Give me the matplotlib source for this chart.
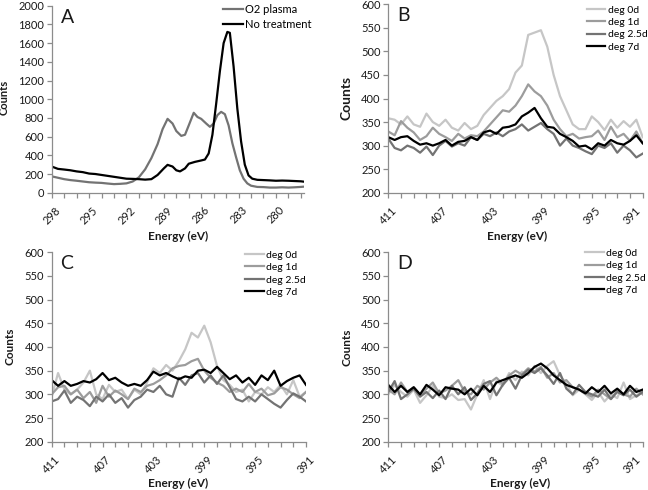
import numpy as np
import matplotlib
matplotlib.use('Agg')
import matplotlib.pyplot as plt
from matplotlib.ticker import MultipleLocator

plt.rcParams['font.family'] = ['Lato', 'DejaVu Sans']

# panel A: C1s region
energy_o2 = [298, 297.5, 297, 296.5, 296, 295.5, 295, 294.5, 294, 293.5, 293, 292.5, 292,
             291.5, 291, 290.5, 290, 289.5, 289.1, 288.7, 288.3, 288, 287.6, 287.3, 287,
             286.6, 286.3, 286, 285.6, 285.3, 285, 284.7, 284.4, 284.1, 283.8, 283.5, 283.2,
             282.9, 282.6, 282.3, 282, 281.5, 281, 280.5, 280, 279.5, 279, 278.5, 278, 277.75]
counts_o2 = [175, 160, 145, 135, 128, 120, 112, 108, 105, 98, 92, 95, 100, 120, 165, 250,
             370, 520, 680, 790, 740, 660, 608, 620, 720, 855, 810, 790, 740, 705, 740, 830,
             865, 840, 720, 530, 380, 240, 150, 100, 75, 62, 60, 55, 55, 58, 55, 58, 62, 65]

energy_none = [298, 297.5, 297, 296.5, 296, 295.5, 295, 294.5, 294, 293.5, 293, 292.5, 292,
               291.5, 291, 290.5, 290, 289.5, 289, 288.7, 288.3, 288, 287.7, 287.3, 287,
               286.5, 286, 285.7, 285.4, 285.1, 284.8, 284.5, 284.2, 283.9, 283.7, 283.4,
               283.1, 282.8, 282.5, 282.2, 281.9, 281.5, 281, 280.5, 280, 279.5, 279, 278.5,
               278, 277.75]
counts_none = [280, 255, 248, 240, 228, 220, 205, 200, 190, 180, 170, 160, 150, 148, 145,
               140, 145, 190, 260, 298, 280, 240, 228, 260, 310, 330, 345, 355, 420, 620,
               950, 1300, 1600, 1720, 1710, 1350, 900, 550, 300, 185, 150, 138, 135, 132,
               128, 130, 128, 125, 122, 118]
ticks_a = [298, 295, 292, 289, 286, 283, 280]

# panels B-D: N1s region, 411 -> 391 eV in 0.5 eV steps
energy_n = np.arange(411, 390.75, -0.5)
ticks_n = [411, 407, 403, 399, 395, 391]

b_0d = [358, 355, 345, 362, 345, 340, 368, 350, 342, 355, 338, 332, 348, 335, 342, 365, 380,
        395, 405, 420, 455, 470, 535, 540, 545, 510, 450, 405, 375, 345, 335, 335, 362, 350,
        333, 355, 338, 352, 340, 355, 318]
b_1d = [330, 322, 352, 338, 328, 312, 320, 338, 325, 318, 310, 325, 315, 322, 320, 330, 345,
        360, 375, 372, 385, 405, 430, 415, 405, 385, 355, 335, 320, 325, 315, 318, 320, 332,
        312, 340, 318, 325, 310, 330, 305]
b_25d = [315, 295, 290, 300, 295, 285, 298, 280, 300, 310, 298, 305, 300, 318, 312, 325, 320,
         328, 320, 330, 335, 345, 332, 340, 348, 335, 325, 300, 315, 300, 295, 288, 282, 300,
         295, 305, 285, 300, 290, 275, 283]
b_7d = [318, 312, 318, 320, 310, 302, 305, 300, 305, 312, 300, 308, 310, 318, 312, 328, 332,
        325, 338, 340, 345, 362, 370, 380, 358, 340, 338, 325, 318, 310, 298, 300, 292, 305,
        300, 312, 305, 302, 310, 322, 305]

c_0d = [295, 345, 310, 300, 310, 325, 350, 300, 290, 320, 305, 310, 290, 310, 300, 325, 355,
        345, 362, 350, 370, 395, 430, 420, 445, 410, 360, 330, 320, 305, 310, 285, 305, 300,
        315, 305, 320, 300, 330, 295, 305]
c_1d = [300, 315, 318, 300, 310, 292, 305, 282, 318, 295, 308, 300, 290, 312, 305, 318, 322,
        330, 340, 355, 360, 362, 370, 375, 350, 335, 325, 318, 305, 312, 305, 322, 305, 312,
        298, 302, 315, 310, 300, 292, 305]
c_25d = [285, 290, 308, 282, 295, 288, 275, 295, 285, 300, 282, 292, 272, 288, 295, 310, 305,
         318, 300, 295, 335, 320, 340, 345, 325, 340, 322, 340, 315, 290, 285, 295, 285, 300,
         290, 280, 272, 288, 302, 295, 285]
c_7d = [330, 318, 328, 318, 322, 328, 325, 332, 345, 330, 335, 325, 318, 322, 318, 330, 348,
        340, 345, 338, 332, 338, 335, 350, 352, 345, 358, 345, 332, 340, 325, 335, 320, 340,
        330, 350, 318, 328, 335, 340, 320]

d_0d = [300, 320, 305, 295, 310, 282, 298, 318, 295, 292, 300, 288, 290, 268, 300, 330, 290,
        328, 318, 345, 330, 348, 340, 360, 345, 360, 370, 340, 322, 298, 310, 300, 288, 305,
        285, 300, 292, 325, 290, 298, 305]
d_1d = [310, 300, 325, 305, 315, 298, 312, 325, 302, 308, 318, 330, 305, 300, 318, 310, 325,
        335, 322, 340, 350, 342, 355, 348, 358, 335, 345, 325, 330, 315, 310, 302, 295, 310,
        300, 290, 308, 300, 295, 312, 300]
d_25d = [305, 328, 290, 300, 312, 295, 305, 292, 308, 290, 318, 300, 315, 288, 302, 322, 328,
         298, 320, 335, 312, 340, 352, 345, 355, 340, 322, 345, 312, 300, 320, 305, 300, 295,
         310, 290, 305, 298, 310, 295, 305]
d_7d = [320, 305, 318, 305, 315, 300, 320, 310, 298, 315, 312, 310, 300, 312, 298, 318, 305,
        325, 330, 335, 340, 335, 345, 358, 365, 355, 340, 330, 320, 315, 310, 302, 315, 305,
        318, 302, 312, 300, 318, 305, 310]

deg_labels = ['deg 0d', 'deg 1d', 'deg 2.5d', 'deg 7d']
deg_colors = ['#c6c6c6', '#9c9c9c', '#737373', '#000000']

AXIS_GREY = '#8c8c8c'
TEXT = '#1a1a1a'


def style_axes(ax, letter, ticks, xlabel_xy, ylabel_xy, ylabel_size=8.5):
    for side in ['top', 'right']:
        ax.spines[side].set_visible(False)
    for side in ['left', 'bottom']:
        ax.spines[side].set_color(AXIS_GREY)
        ax.spines[side].set_linewidth(0.9)
    ax.tick_params(which='both', direction='out', color=AXIS_GREY, length=3.5,
                   width=0.9, labelsize=8, labelcolor=TEXT, pad=2)
    ax.tick_params(axis='x', pad=5)
    ax.xaxis.set_minor_locator(MultipleLocator(1))
    ax.set_xticks(ticks)
    ax.set_xticklabels([str(t) for t in ticks], rotation=45, ha='center', va='top')
    ax.set_xlabel('Energy (eV)', fontsize=8.5, fontweight='bold', color=TEXT)
    ax.set_ylabel('Counts', fontsize=ylabel_size, fontweight='bold', color=TEXT)
    ax.xaxis.set_label_coords(*xlabel_xy)
    ax.yaxis.set_label_coords(*ylabel_xy)
    ax.text(0.035, 0.985, letter, transform=ax.transAxes, fontsize=14,
            va='top', ha='left', color=TEXT)


fig = plt.figure(figsize=(6.48, 4.9), dpi=100)

# A
axA = fig.add_axes([0.0798, 0.6067, 0.3893, 0.3816])
axA.plot(energy_o2, counts_o2, color='#737373', lw=1.6, label='O2 plasma')
axA.plot(energy_none, counts_none, color='#000000', lw=1.6, label='No treatment')
axA.set_xlim(298, 277.75)
axA.set_ylim(0, 2000)
axA.yaxis.set_major_locator(MultipleLocator(200))
style_axes(axA, 'A', ticks_a, (0.5, -0.205), (-0.165, 0.509), 8)
axA.legend(loc='upper left', bbox_to_anchor=(0.679, 1.01), frameon=False, fontsize=8,
           handlelength=1.8, handletextpad=0.2, labelspacing=0.35, borderpad=0,
           borderaxespad=0)

panels = [
    ('B', [0.5992, 0.6067, 0.3926, 0.3845], [b_0d, b_1d, b_25d, b_7d],
     (0.505, -0.205), (-0.14, 0.505), 10, (0.78, 0.995)),
    ('C', [0.0798, 0.0986, 0.3924, 0.3865], [c_0d, c_1d, c_25d, c_7d],
     (0.497, -0.19), (-0.144, 0.506), 8.5, (0.76, 1.01)),
    ('D', [0.5992, 0.0986, 0.3926, 0.3865], [d_0d, d_1d, d_25d, d_7d],
     (0.518, -0.19), (-0.142, 0.5), 8.5, (0.773, 1.02)),
]

for letter, rect, series, xl, yl, ysize, leg_xy in panels:
    ax = fig.add_axes(rect)
    for vals, lab, col in zip(series, deg_labels, deg_colors):
        ax.plot(energy_n, vals, color=col, lw=1.6, label=lab)
    ax.set_xlim(411, 391)
    ax.set_ylim(200, 600)
    ax.yaxis.set_major_locator(MultipleLocator(50))
    style_axes(ax, letter, ticks_n, xl, yl, ysize)
    if letter in ('B', 'D'):
        # last label sits at the figure edge, keep it inside
        ax.get_xticklabels()[-1].set_ha('right')
    ax.legend(loc='upper left', bbox_to_anchor=leg_xy, frameon=False, fontsize=7.5,
              handlelength=1.8, handletextpad=0.2, labelspacing=0.3, borderpad=0,
              borderaxespad=0)

fig.savefig('out.png', dpi=100)
